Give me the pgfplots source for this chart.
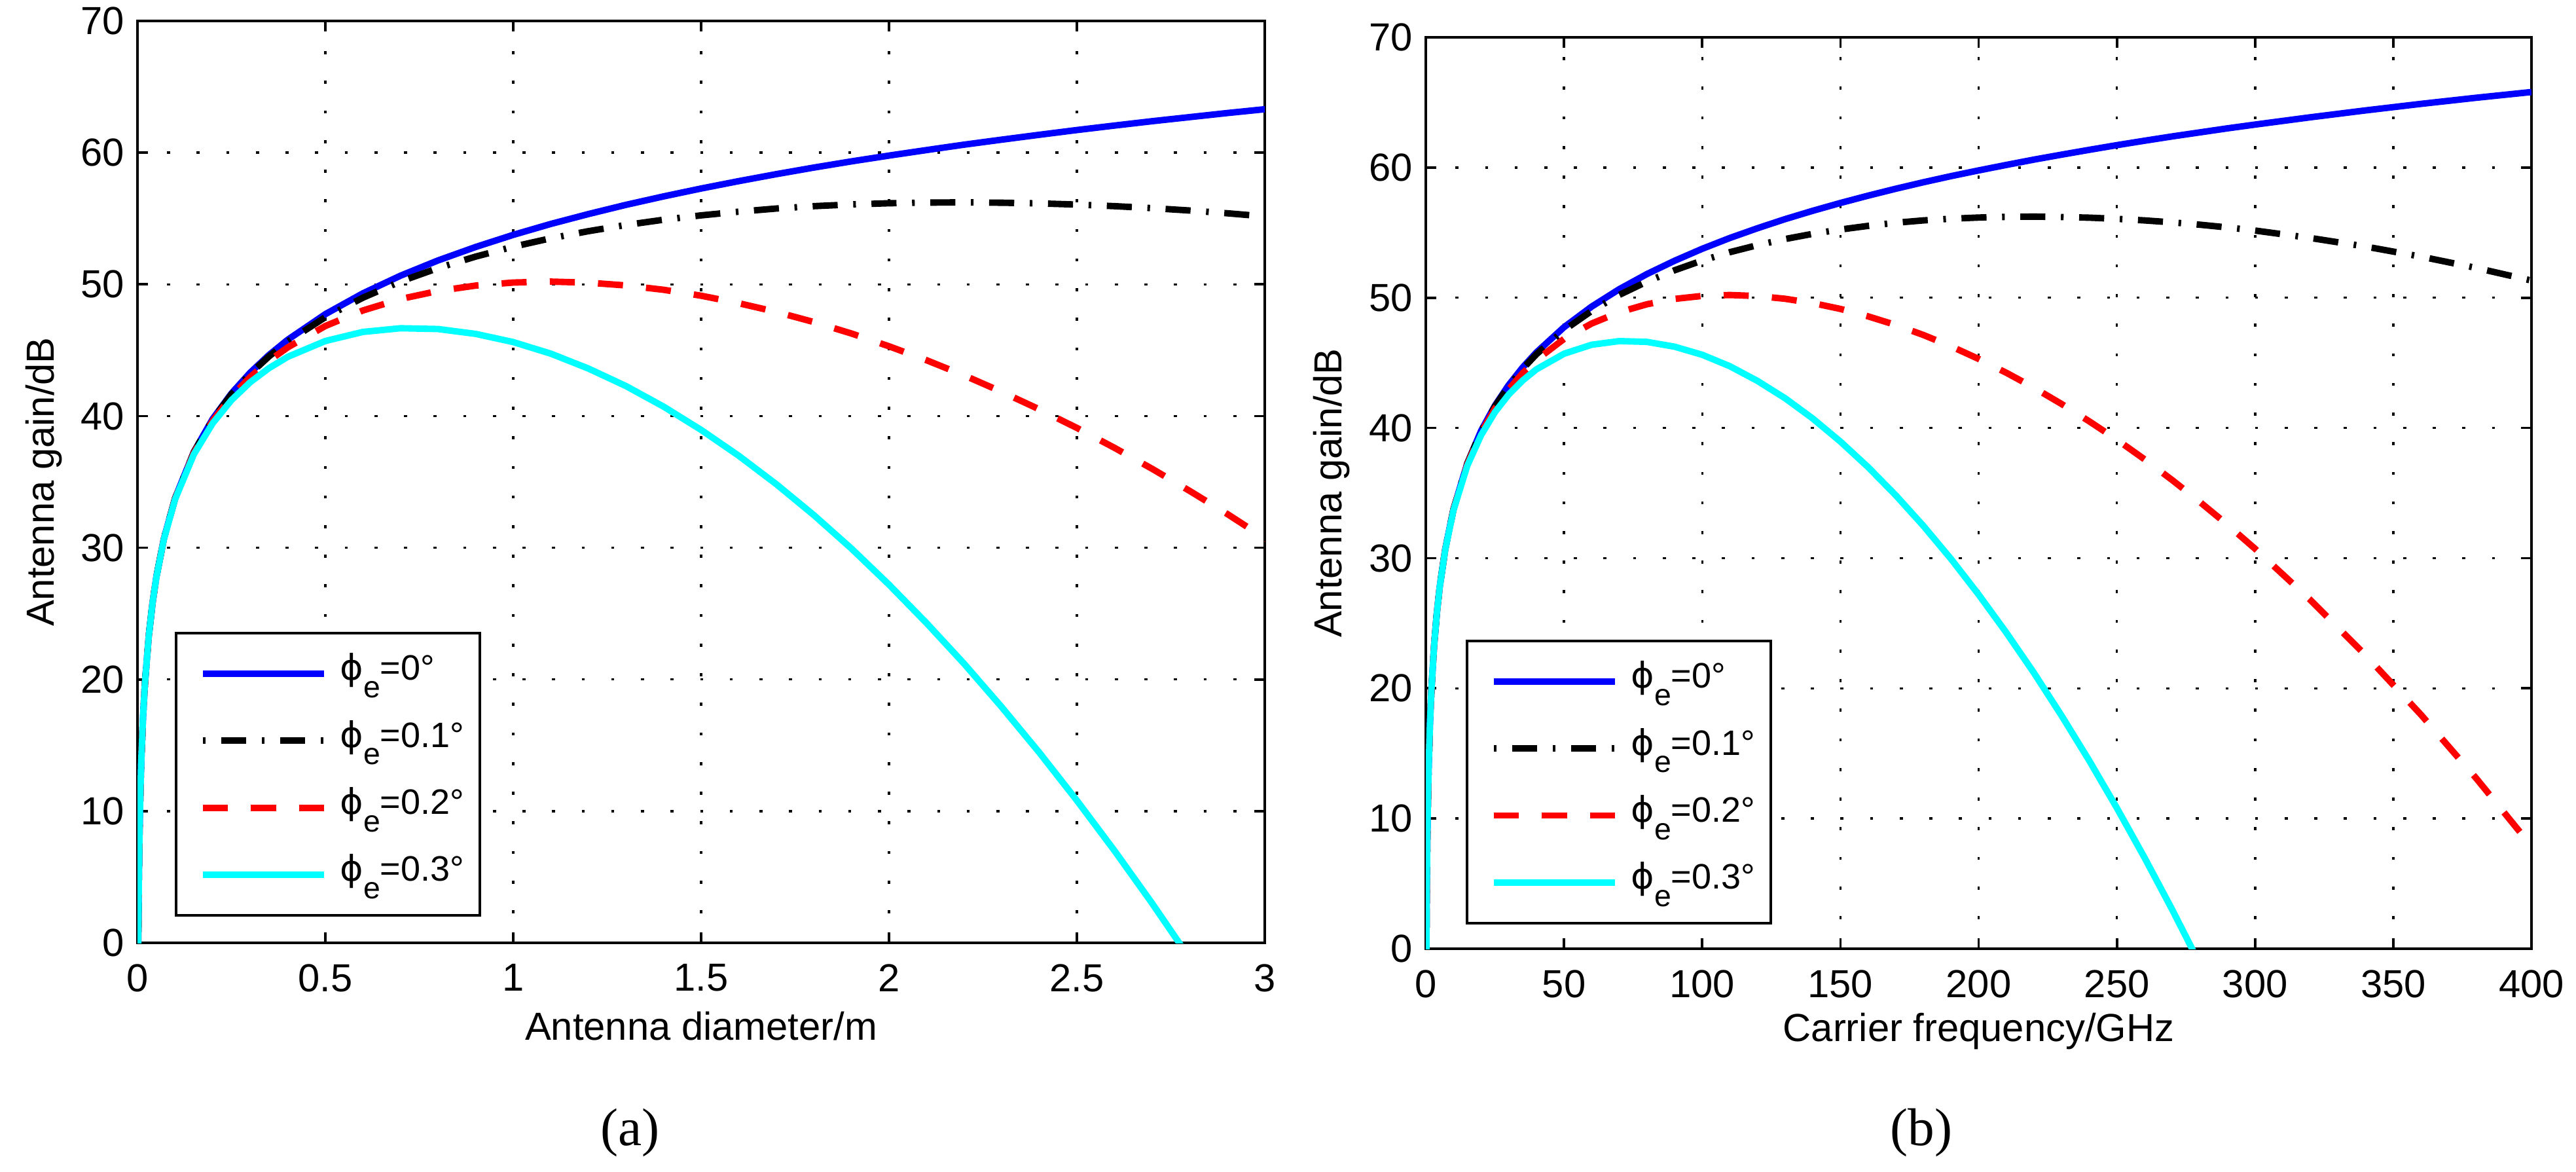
\documentclass[border=0pt]{standalone}
\usepackage{fontspec}
\setmainfont{Liberation Sans}
\newfontfamily\capfont{Liberation Serif}
\newfontfamily\dvfont{DejaVu Sans}
\usepackage{pgfplots}
\usepackage{pgfplotstable}
\pgfplotsset{compat=1.18}

\definecolor{mblue}{RGB}{0,0,255}
\definecolor{mred}{RGB}{255,0,0}
\definecolor{mcyan}{RGB}{0,255,255}

% D = antenna diameter (m), f = carrier frequency (GHz), g0..g3 = gain (dB) for phi_e = 0, 0.1, 0.2, 0.3 deg
\pgfplotstableread{
D f g0 g1 g2 g3
0.002 0.2 -0.22 -0.22 -0.22 -0.22
0.0025 0.25 1.72 1.72 1.72 1.72
0.003 0.3 3.30 3.30 3.30 3.30
0.004 0.4 5.80 5.80 5.80 5.80
0.005 0.5 7.74 7.74 7.74 7.74
0.007 0.7 10.66 10.66 10.66 10.66
0.01 1 13.76 13.76 13.76 13.76
0.015 1.5 17.28 17.28 17.28 17.28
0.02 2 19.78 19.78 19.78 19.78
0.03 3 23.30 23.30 23.30 23.29
0.04 4 25.80 25.80 25.79 25.79
0.05 5 27.74 27.74 27.73 27.72
0.07 7 30.66 30.66 30.64 30.62
0.1 10 33.76 33.75 33.72 33.68
0.15 15 37.28 37.26 37.20 37.10
0.2 20 39.78 39.74 39.64 39.45
0.25 25 41.72 41.66 41.49 41.21
0.3 30 43.30 43.22 42.97 42.57
0.35 35 44.64 44.53 44.20 43.64
0.4 40 45.80 45.66 45.22 44.50
0.5 50 47.74 47.51 46.84 45.70
0.6 60 49.32 48.99 48.02 46.39
0.7 70 50.66 50.22 48.89 46.67
0.8 80 51.82 51.24 49.50 46.61
0.9 90 52.84 52.11 49.91 46.24
1.0 100 53.76 52.86 50.14 45.62
1.1 110 54.59 53.50 50.21 44.74
1.2 120 55.34 54.04 50.13 43.61
1.3 130 56.04 54.51 49.92 42.28
1.4 140 56.68 54.91 49.59 40.72
1.5 150 57.28 55.24 49.14 38.95
1.6 160 57.84 55.52 48.57 36.99
1.7 170 58.37 55.76 47.91 34.83
1.8 180 58.87 55.94 47.14 32.48
1.9 190 59.34 56.07 46.27 29.94
2.0 200 59.78 56.16 45.30 27.20
2.1 210 60.20 56.21 44.24 24.28
2.2 220 60.61 56.23 43.09 21.19
2.3 230 60.99 56.20 41.84 17.90
2.4 240 61.36 56.15 40.51 14.45
2.5 250 61.72 56.06 39.10 10.81
2.6 260 62.06 55.94 37.59 7.00
2.7 270 62.39 55.79 36.00 3.01
2.8 280 62.70 55.61 34.32 -1.16
2.9 290 63.01 55.40 32.57 nan
3.0 300 63.30 55.16 30.72 nan
3.2 320 63.86 54.59 26.79 nan
3.4 340 64.39 53.93 22.54 nan
3.6 360 64.89 53.16 17.98 nan
3.8 380 65.36 52.29 13.09 nan
4.0 400 65.80 51.32 7.88 nan
}\gaintable

\newcommand{\LE}[1]{\makebox[30.6pt][l]{{\dvfont ϕ}\raisebox{-4.6pt}{\fontsize{8}{8}\selectfont e}=#1°}}

\pgfplotsset{
  mystyle/.style={
    scale only axis,
    axis line style={line width=0.65pt},
    every tick/.style={black, line width=0.65pt},
    major tick length=2.8pt,
    tick align=inside,
    tick pos=both,
    grid=major,
    major grid style={black, line width=0.6pt, dash pattern=on 0.8pt off 7pt},
    ymin=0, ymax=70, ytick={0,10,20,30,40,50,60,70},
    /pgf/number format/assume math mode=true,
    tick label style={font=\fontsize{10.3}{12}\selectfont},
    xticklabel style={yshift=-2.1pt},
    label style={font=\fontsize{10.3}{12}\selectfont},
    legend cell align=left,
    legend style={font=\fontsize{9.3}{11}\selectfont, draw=black, line width=0.65pt,
      fill=white, inner xsep=6.2pt, inner ysep=3pt, row sep=2.25pt, column sep=3.4pt,
      anchor=south west, cells={anchor=base west},
      nodes={inner sep=0pt, text height=9.4pt, text depth=6pt}},
    legend image code/.code={\draw[##1] (0pt,1.7pt) -- (31.9pt,1.7pt);},
    ylabel={Antenna gain/dB},
  },
  c0/.style={mblue, line width=1.7pt, line join=round},
  c1/.style={black, line width=1.7pt, line join=round, dash pattern=on 0.7pt off 4.1pt on 6.6pt off 4.1pt},
  c2/.style={mred, line width=1.7pt, line join=round, dash pattern=on 6.6pt off 6.1pt},
  c3/.style={mcyan, line width=1.7pt, line join=round},
}

\begin{document}
\begin{tikzpicture}[x=1pt,y=1pt]
\path[use as bounding box] (0,0) rectangle (678.45,308.62);

\begin{axis}[mystyle,
  at={(36.21pt,60.34pt)}, anchor=south west,
  width=296.9pt, height=242.76pt,
  xmin=0, xmax=3, xtick={0,0.5,1,1.5,2,2.5,3},
  xlabel={Antenna diameter/m},
  xlabel style={at={(axis description cs:0.5,-0.1052)}, anchor=base},
  ylabel style={at={(axis description cs:-0.0743,0.5)}, anchor=base},
  legend style={at={(axis description cs:0.0331,0.0284)}},
]
\addplot[c0] table[x=D,y=g0]{\gaintable};
\addplot[c1] table[x=D,y=g1]{\gaintable};
\addplot[c2] table[x=D,y=g2]{\gaintable};
\addplot[c3] table[x=D,y=g3]{\gaintable};
\addlegendentry{\LE{0}}
\addlegendentry{\LE{0.1}}
\addlegendentry{\LE{0.2}}
\addlegendentry{\LE{0.3}}
\end{axis}

\begin{axis}[mystyle,
  at={(375.52pt,58.79pt)}, anchor=south west,
  width=291.21pt, height=240pt,
  xmin=0, xmax=400, xtick={0,50,100,150,200,250,300,350,400},
  xlabel={Carrier frequency/GHz},
  xlabel style={at={(axis description cs:0.5,-0.102)}, anchor=base},
  ylabel style={at={(axis description cs:-0.0758,0.5)}, anchor=base},
  legend style={at={(axis description cs:0.0361,0.0267)}},
]
\addplot[c0] table[x=f,y=g0]{\gaintable};
\addplot[c1] table[x=f,y=g1]{\gaintable};
\addplot[c2] table[x=f,y=g2]{\gaintable};
\addplot[c3] table[x=f,y=g3]{\gaintable};
\addlegendentry{\LE{0}}
\addlegendentry{\LE{0.1}}
\addlegendentry{\LE{0.2}}
\addlegendentry{\LE{0.3}}
\end{axis}

\node[anchor=base, font=\capfont\fontsize{14}{16}\selectfont] at (166.0,6.9) {(a)};
\node[anchor=base, font=\capfont\fontsize{14}{16}\selectfont] at (506.0,6.9) {(b)};
\end{tikzpicture}
\end{document}
